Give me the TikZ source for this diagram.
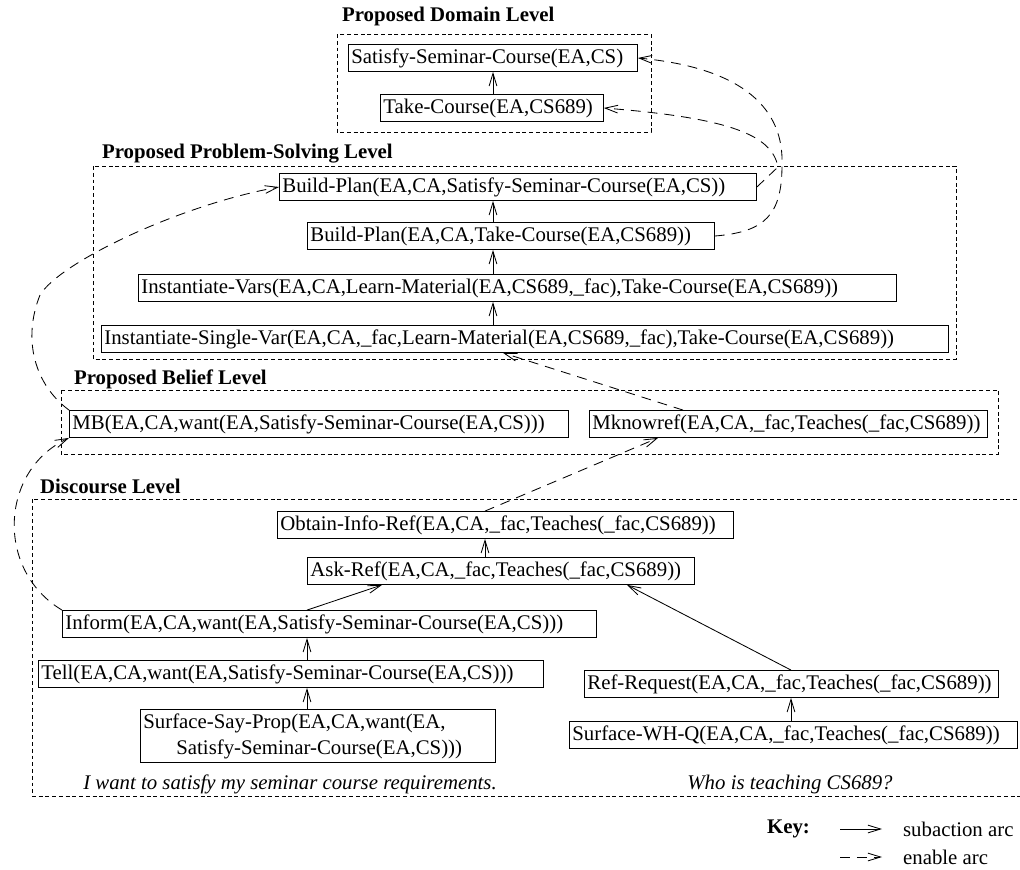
\documentclass[tikz,border=0pt]{standalone}
\usepackage{fontspec}
\setmainfont{Liberation Serif}
\usetikzlibrary{arrows.meta, positioning}

\newcommand{\planfont}{\fontsize{14.8}{17}\selectfont\exhyphenpenalty=10000\relax\hyphenpenalty=10000\relax}

\begin{document}
\begin{tikzpicture}[
    x=0.025cm, y=-0.025cm, line width=0.6pt,
    font=\planfont,
    >={Straight Barb[length=9pt,width=5.5pt]},
    % boxes for the actions
    act/.style={draw, rectangle, anchor=west, align=left, inner xsep=2.1pt, inner ysep=0pt, minimum height=0.675cm},
    % subaction arcs
    sub/.style={->},
    % enable arcs
    enable/.style={->, dash pattern=on 7pt off 5pt},
    % frames of the levels
    level/.style={dash pattern=on 2.8pt off 2pt},
    leveltitle/.style={anchor=base west, font=\planfont\bfseries},
    utter/.style={font=\planfont\itshape}
  ]
  \useasboundingbox (0,0) rectangle (1020,869);

  % Proposed domain level
  \draw[level] (337,34) rectangle (651,132);
  \node[leveltitle] (domt) at (337,21) {Proposed Domain Level};
  \node[act, text width=7.075cm] (sat) at (348,58) {Satisfy-Seminar-Course(EA,CS)};
  \node[act, text width=5.425cm] (take) at (380,108) {Take-Course(EA,CS689)};

  % Proposed problem-solving level
  \draw[level] (93,166) rectangle (956,359);
  \node[leveltitle] (pst) at (97,158) {Proposed Problem-Solving Level};
  \node[act, text width=11.775cm] (bp1) at (279,187) {Build-Plan(EA,CA,Satisfy-Seminar-Course(EA,CS))};
  \node[act, text width=10.025cm] (bp2) at (307,236) {Build-Plan(EA,CA,Take-Course(EA,CS689))};
  \node[act, text width=18.8cm] (iv) at (138,288) {Instantiate-Vars(EA,CA,Learn-Material(EA,CS689,\_fac),Take-Course(EA,CS689))};
  \node[act, text width=21.025cm] (isv) at (101,339) {Instantiate-Single-Var(EA,CA,\_fac,Learn-Material(EA,CS689,\_fac),Take-Course(EA,CS689))};

  % Proposed belief level
  \draw[level] (61,390) rectangle (998,454);
  \node[leveltitle] (belt) at (69,384) {Proposed Belief Level};
  \node[act, text width=12.325cm] (mb) at (69,424) {MB(EA,CA,want(EA,Satisfy-Seminar-Course(EA,CS)))};
  \node[act, text width=9.8cm] (mk) at (589,424) {Mknowref(EA,CA,\_fac,Teaches(\_fac,CS689))};

  % Discourse level
  \draw[level] (32,499) rectangle (1024,796);
  \node[leveltitle] (dist) at (35,493) {Discourse Level};
  \node[act, text width=11.25cm] (obtain) at (277,525) {Obtain-Info-Ref(EA,CA,\_fac,Teaches(\_fac,CS689))};
  \node[act, text width=9.525cm] (ask) at (307,571) {Ask-Ref(EA,CA,\_fac,Teaches(\_fac,CS689))};
  \node[act, text width=13.2cm] (inform) at (62,624) {Inform(EA,CA,want(EA,Satisfy-Seminar-Course(EA,CS)))};
  \node[act, text width=12.475cm] (tell) at (38,674) {Tell(EA,CA,want(EA,Satisfy-Seminar-Course(EA,CS)))};
  \node[act, text width=8.725cm, minimum height=1.325cm, font=\fontsize{14.8}{18.5}\selectfont] (ssp) at (140,736)
    {Surface-Say-Prop(EA,CA,want(EA,\\[0pt]\mbox{}\hspace{0.825cm}Satisfy-Seminar-Course(EA,CS)))};
  \node[act, text width=10.2cm] (refreq) at (584,684) {Ref-Request(EA,CA,\_fac,Teaches(\_fac,CS689))};
  \node[act, text width=11.05cm] (whq) at (569,735) {Surface-WH-Q(EA,CA,\_fac,Teaches(\_fac,CS689))};
  \node[utter] (utt1) at (290,784) {I want to satisfy my seminar course requirements.};
  \node[utter] (utt2) at (790,784) {Who is teaching CS689?};

  % Key
  \node[anchor=east, font=\planfont\bfseries] (key) at (815,829) {Key:};
  \coordinate (ks) at (840,829);
  \coordinate (ke) at (882,829);
  \node[anchor=west] (subl) at (898,829) {subaction arc};
  \coordinate (es) at (840,857);
  \coordinate (ee) at (882,857);
  \node[anchor=west] (enl) at (898,857) {enable arc};
  \draw[sub] (ks) -- (ke);
  \draw[enable] (es) -- (ee);

  % Subaction arcs
  \coordinate (pscol) at (493,0);
  \coordinate (askcol) at (485,0);
  \coordinate (tellcol) at (307,0);
  \coordinate (whqcol) at (791,0);
  \draw[sub] (take.north -| pscol) -- (sat.south -| pscol);
  \draw[sub] (bp2.north -| pscol) -- (bp1.south -| pscol);
  \draw[sub] (iv.north -| pscol) -- (bp2.south -| pscol);
  \draw[sub] (isv.north -| pscol) -- (iv.south -| pscol);
  \draw[sub] (ask.north -| askcol) -- (obtain.south -| askcol);
  \draw[sub] (inform.north -| tellcol) -- ([xshift=1.875cm]ask.south west);
  \draw[sub] (tell.north -| tellcol) -- (inform.south -| tellcol);
  \draw[sub] (ssp.north -| tellcol) -- (tell.south -| tellcol);
  \draw[sub] (refreq.north -| whqcol) -- ([xshift=8cm]ask.south west);
  \draw[sub] (whq.north -| whqcol) -- (refreq.south -| whqcol);

  % Enable arcs
  \coordinate (cusp) at (778,167);
  \draw[enable] (bp1.east) -- (cusp) .. controls (772,135) and (730,118) .. (take.east);
  \draw[enable] (bp2.east) .. controls (765,232) and (782,215) .. (782,165)
    .. controls (784,110) and (745,68) .. (sat.east);
  \draw[enable] (mb.north west) .. controls (35,385) and (22,340) .. (40,295)
    .. controls (60,262) and (180,205) .. (bp1.west);
  \draw[enable] ([xshift=2.35cm]mk.north west) -- ([xshift=10.05cm]isv.south west);
  \draw[enable] (obtain.north -| askcol) -- ([xshift=1.725cm]mk.south west);
  \draw[enable] (inform.north west) .. controls (-5,570) and (0,470) .. (mb.south west);
\end{tikzpicture}
\end{document}
